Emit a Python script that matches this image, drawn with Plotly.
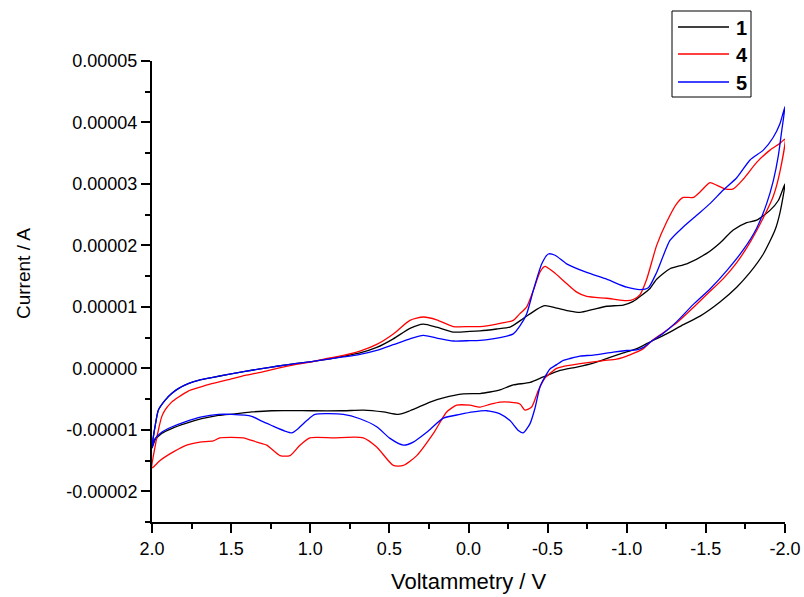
import plotly.graph_objects as go

# ---------------- data (voltage in V, current in microamps) ----------------
v_1 = [2.000, 1.981, 1.960, 1.918, 1.876, 1.834, 1.771, 1.707, 1.623, 1.518, 1.412, 1.307, 1.202, 1.096,
       0.991, 0.875, 0.791, 0.686, 0.580, 0.475, 0.370, 0.286, 0.201, 0.096, -0.009, -0.073, -0.178, -0.262,
       -0.346, -0.431, -0.483, -0.557, -0.641, -0.705, -0.789, -0.873, -0.978, -1.041, -1.084, -1.147, -1.189,
       -1.273, -1.379, -1.505, -1.589, -1.673, -1.758, -1.821, -1.905, -1.958, -2.000,
       -1.968, -1.937, -1.863, -1.779, -1.695, -1.589, -1.463, -1.357, -1.252, -1.158, -1.063, -0.978, -0.894,
       -0.789, -0.684, -0.578, -0.473, -0.389, -0.283, -0.199, -0.136, -0.073, 0.033, 0.159, 0.243, 0.370,
       0.444, 0.538, 0.665, 0.791, 0.991, 1.244, 1.370, 1.476, 1.581, 1.686, 1.791, 1.876, 1.939, 1.981, 2.000]
i_1_uA = [-13.0, -9.5, -6.8, -5.2, -4.1, -3.3, -2.5, -1.95, -1.5, -1.0, -0.5, -0.05, 0.38, 0.76,
          1.1, 1.55, 1.95, 2.5, 3.4, 4.8, 6.5, 7.2, 6.7, 5.9, 6.0, 6.1, 6.4, 6.7,
          8.1, 9.6, 10.2, 9.8, 9.3, 9.1, 9.6, 10.1, 10.3, 10.9, 11.7, 13.0, 14.5,
          16.2, 17.0, 18.7, 20.4, 22.5, 23.7, 24.1, 25.7, 27.3, 30.0,
          25.3, 22.5, 18.6, 15.6, 13.2, 10.8, 8.5, 7.1, 5.6, 4.45, 3.2, 2.5, 1.8,
          0.85, 0.2, -0.35, -1.4, -2.3, -2.7, -3.5, -3.85, -4.1, -4.15, -4.8, -5.5, -6.9,
          -7.5, -7.1, -6.8, -6.9, -6.9, -6.9, -7.1, -7.4, -7.65, -8.2, -9.0, -9.8, -10.6, -11.7, -13.0]

v_4 = [2.000, 1.981, 1.960, 1.939, 1.918, 1.876, 1.834, 1.771, 1.707, 1.623, 1.518, 1.412, 1.307, 1.202,
       1.096, 0.991, 0.875, 0.791, 0.686, 0.580, 0.475, 0.370, 0.286, 0.201, 0.096, -0.009, -0.073, -0.178,
       -0.283, -0.325, -0.368, -0.410, -0.452, -0.483, -0.536, -0.620, -0.684, -0.747, -0.873, -1.000, -1.041,
       -1.084, -1.126, -1.189, -1.252, -1.316, -1.357, -1.421, -1.463, -1.526, -1.568, -1.621, -1.673, -1.737,
       -1.821, -1.905, -1.968, -2.000,
       -1.968, -1.926, -1.863, -1.779, -1.695, -1.610, -1.505, -1.421, -1.316, -1.231, -1.158, -1.105, -1.020,
       -0.936, -0.852, -0.705, -0.599, -0.557, -0.483, -0.441, -0.399, -0.357, -0.325, -0.262, -0.199, -0.136,
       -0.073, -0.009, 0.075, 0.138, 0.222, 0.327, 0.412, 0.475, 0.580, 0.665, 0.854, 1.002, 1.065, 1.128,
       1.191, 1.275, 1.338, 1.424, 1.571, 1.613, 1.697, 1.781, 1.865, 1.949, 2.000]
i_4_uA = [-16.2, -12.8, -10.1, -7.9, -6.8, -5.5, -4.7, -3.7, -3.15, -2.5, -1.85, -1.15, -0.6, 0.05,
          0.6, 1.05, 1.7, 2.1, 2.8, 3.9, 5.6, 7.8, 8.35, 7.9, 6.8, 6.8, 6.8, 7.2,
          7.8, 8.9, 10.0, 12.7, 15.7, 16.6, 15.7, 13.8, 12.4, 11.7, 11.4, 11.0, 11.2,
          12.0, 14.5, 20.0, 23.8, 26.8, 27.8, 27.8, 28.7, 30.2, 29.8, 29.2, 29.2, 30.8,
          33.5, 35.5, 36.6, 37.3,
          32.0, 28.0, 24.5, 20.5, 17.2, 14.6, 12.0, 9.9, 7.4, 5.8, 4.45, 3.2, 2.2,
          1.5, 1.25, 0.75, 0.3, 0.0, -1.6, -3.6, -6.3, -6.8, -5.8, -5.5, -5.5, -5.86,
          -6.3, -6.0, -6.0, -7.1, -10.6, -14.2, -15.8, -15.8, -12.8, -11.3, -11.3, -11.3, -12.5, -14.2,
          -14.2, -12.5, -12.0, -11.3, -11.3, -11.8, -12.0, -12.5, -13.6, -15.0, -16.2]

v_5 = [2.000, 1.981, 1.960, 1.918, 1.876, 1.834, 1.771, 1.707, 1.623, 1.518, 1.412, 1.307, 1.202, 1.096,
       0.991, 0.875, 0.791, 0.686, 0.580, 0.475, 0.370, 0.286, 0.201, 0.096, -0.009, -0.073, -0.199, -0.283,
       -0.325, -0.368, -0.410, -0.463, -0.504, -0.547, -0.620, -0.747, -0.873, -1.000, -1.084, -1.136, -1.189,
       -1.273, -1.357, -1.442, -1.526, -1.610, -1.695, -1.779, -1.863, -1.926, -1.968, -2.000,
       -1.979, -1.958, -1.926, -1.884, -1.821, -1.737, -1.632, -1.526, -1.421, -1.316, -1.231, -1.158, -1.105,
       -1.063, -1.000, -0.915, -0.789, -0.705, -0.641, -0.599, -0.557, -0.515, -0.494, -0.452, -0.420, -0.389,
       -0.346, -0.315, -0.262, -0.199, -0.115, -0.030, 0.054, 0.159, 0.264, 0.349, 0.412, 0.496, 0.580, 0.686,
       0.791, 0.970, 1.022, 1.076, 1.117, 1.160, 1.244, 1.307, 1.370, 1.496, 1.581, 1.686, 1.791, 1.876, 1.939,
       1.981, 2.000]
i_5_uA = [-12.9, -9.5, -6.8, -5.2, -4.1, -3.3, -2.5, -1.95, -1.5, -0.98, -0.49, -0.05, 0.38, 0.76,
          1.1, 1.55, 1.85, 2.28, 2.93, 3.85, 4.8, 5.37, 4.93, 4.45, 4.5, 4.56, 5.0, 5.6,
          6.9, 8.9, 12.7, 17.0, 18.6, 18.4, 17.0, 15.6, 14.5, 13.2, 12.8, 13.1, 15.6,
          20.8, 23.0, 24.9, 26.8, 29.0, 31.0, 33.9, 35.5, 37.6, 39.8, 42.6,
          38.6, 34.6, 30.5, 26.8, 22.8, 19.3, 15.9, 12.9, 10.4, 7.6, 5.7, 4.45, 3.4,
          3.0, 2.9, 2.65, 2.15, 2.0, 1.6, 1.3, 0.6, -0.1, -0.9, -3.0, -6.5, -9.0,
          -10.5, -10.1, -8.5, -7.4, -6.9, -7.1, -7.5, -8.1, -10.4, -12.0, -12.5, -11.4, -9.5, -8.2,
          -7.5, -7.5, -8.5, -9.8, -10.5, -10.2, -9.3, -8.6, -7.8, -7.5, -7.5, -7.9, -8.7, -9.55, -10.4,
          -11.45, -12.9]

series_names = ["1", "4", "5"]
series_colors = ["#000000", "#ff0000", "#0000ff"]

x_tick_vals = [2.0, 1.5, 1.0, 0.5, 0.0, -0.5, -1.0, -1.5, -2.0]
x_tick_text = ["2.0", "1.5", "1.0", "0.5", "0.0", "-0.5", "-1.0", "-1.5", "-2.0"]
y_tick_vals = [0.00005, 0.00004, 0.00003, 0.00002, 0.00001, 0.0, -0.00001, -0.00002]
y_tick_text = ["0.00005", "0.00004", "0.00003", "0.00002", "0.00001", "0.00000", "-0.00001", "-0.00002"]
x_minor_vals = [1.75, 1.25, 0.75, 0.25, -0.25, -0.75, -1.25, -1.75]
y_minor_vals = [0.000045, 0.000035, 0.000025, 0.000015, 0.000005, -0.000005, -0.000015, -0.000025]

# ---------------- figure ----------------
FONT = "Arial, 'Liberation Sans', sans-serif"
W, H = 804, 597
ML, MR, MT, MB = 152, 19, 61, 75
PW, PH = W - ML - MR, H - MT - MB


def px_x(p):  # pixel column -> paper x
    return (p - ML) / PW


def px_y(p):  # pixel row -> paper y
    return (H - MB - p) / PH


fig = go.Figure()
for name, color, v, i_uA in zip(series_names, series_colors, [v_1, v_4, v_5], [i_1_uA, i_4_uA, i_5_uA]):
    fig.add_trace(go.Scatter(
        x=v, y=[c * 1e-6 for c in i_uA], mode="lines", name=name, showlegend=False,
        line=dict(color=color, width=1.3, shape="spline", smoothing=0.6),
    ))

axis_common = dict(
    showline=True, linecolor="black", linewidth=2, mirror=False,
    ticks="outside", ticklen=9, tickwidth=2, tickcolor="black",
    showgrid=False, zeroline=False, automargin=False,
    tickfont=dict(family=FONT, size=18, color="black"),
)
fig.update_xaxes(
    range=[2.0, -2.0], tickmode="array", tickvals=x_tick_vals, ticktext=x_tick_text,
    minor=dict(tickvals=x_minor_vals, ticks="outside", ticklen=5, tickwidth=2, tickcolor="black"),
    **axis_common,
)
fig.update_yaxes(
    range=[-0.000025, 0.00005], tickmode="array", tickvals=y_tick_vals, ticktext=y_tick_text,
    minor=dict(tickvals=y_minor_vals, ticks="outside", ticklen=5, tickwidth=2, tickcolor="black"),
    **axis_common,
)

# legend box drawn as a framed key (matches the original's boxed legend)
shapes = [dict(type="rect", xref="paper", yref="paper",
               x0=px_x(672), x1=px_x(751), y0=px_y(97), y1=px_y(11),
               line=dict(color="black", width=1), fillcolor="white", layer="above")]
annotations = []
legend_rows = [27, 54, 82]
for name, color, row in zip(series_names, series_colors, legend_rows):
    shapes.append(dict(type="line", xref="paper", yref="paper",
                       x0=px_x(678), x1=px_x(729), y0=px_y(row), y1=px_y(row),
                       line=dict(color=color, width=1.3), layer="above"))
    annotations.append(dict(text="<b>%s</b>" % name, xref="paper", yref="paper",
                            x=px_x(734), y=px_y(row + 1), xanchor="left", yanchor="middle",
                            showarrow=False, font=dict(family=FONT, size=20, color="black")))

annotations += [
    dict(text="Current / A", xref="paper", yref="paper",
         x=px_x(23), y=px_y(274), xanchor="center", yanchor="middle",
         textangle=-90, showarrow=False, font=dict(family=FONT, size=19, color="black")),
    dict(text="Voltammetry / V", xref="paper", yref="paper",
         x=0.5, y=px_y(581), xanchor="center", yanchor="middle",
         showarrow=False, font=dict(family=FONT, size=22, color="black")),
]

fig.update_layout(
    width=W, height=H,
    margin=dict(l=ML, r=MR, t=MT, b=MB, autoexpand=False),
    paper_bgcolor="white", plot_bgcolor="white",
    font=dict(family=FONT, color="black"),
    showlegend=False,
    shapes=shapes,
    annotations=annotations,
)

fig.write_html("out.html")
